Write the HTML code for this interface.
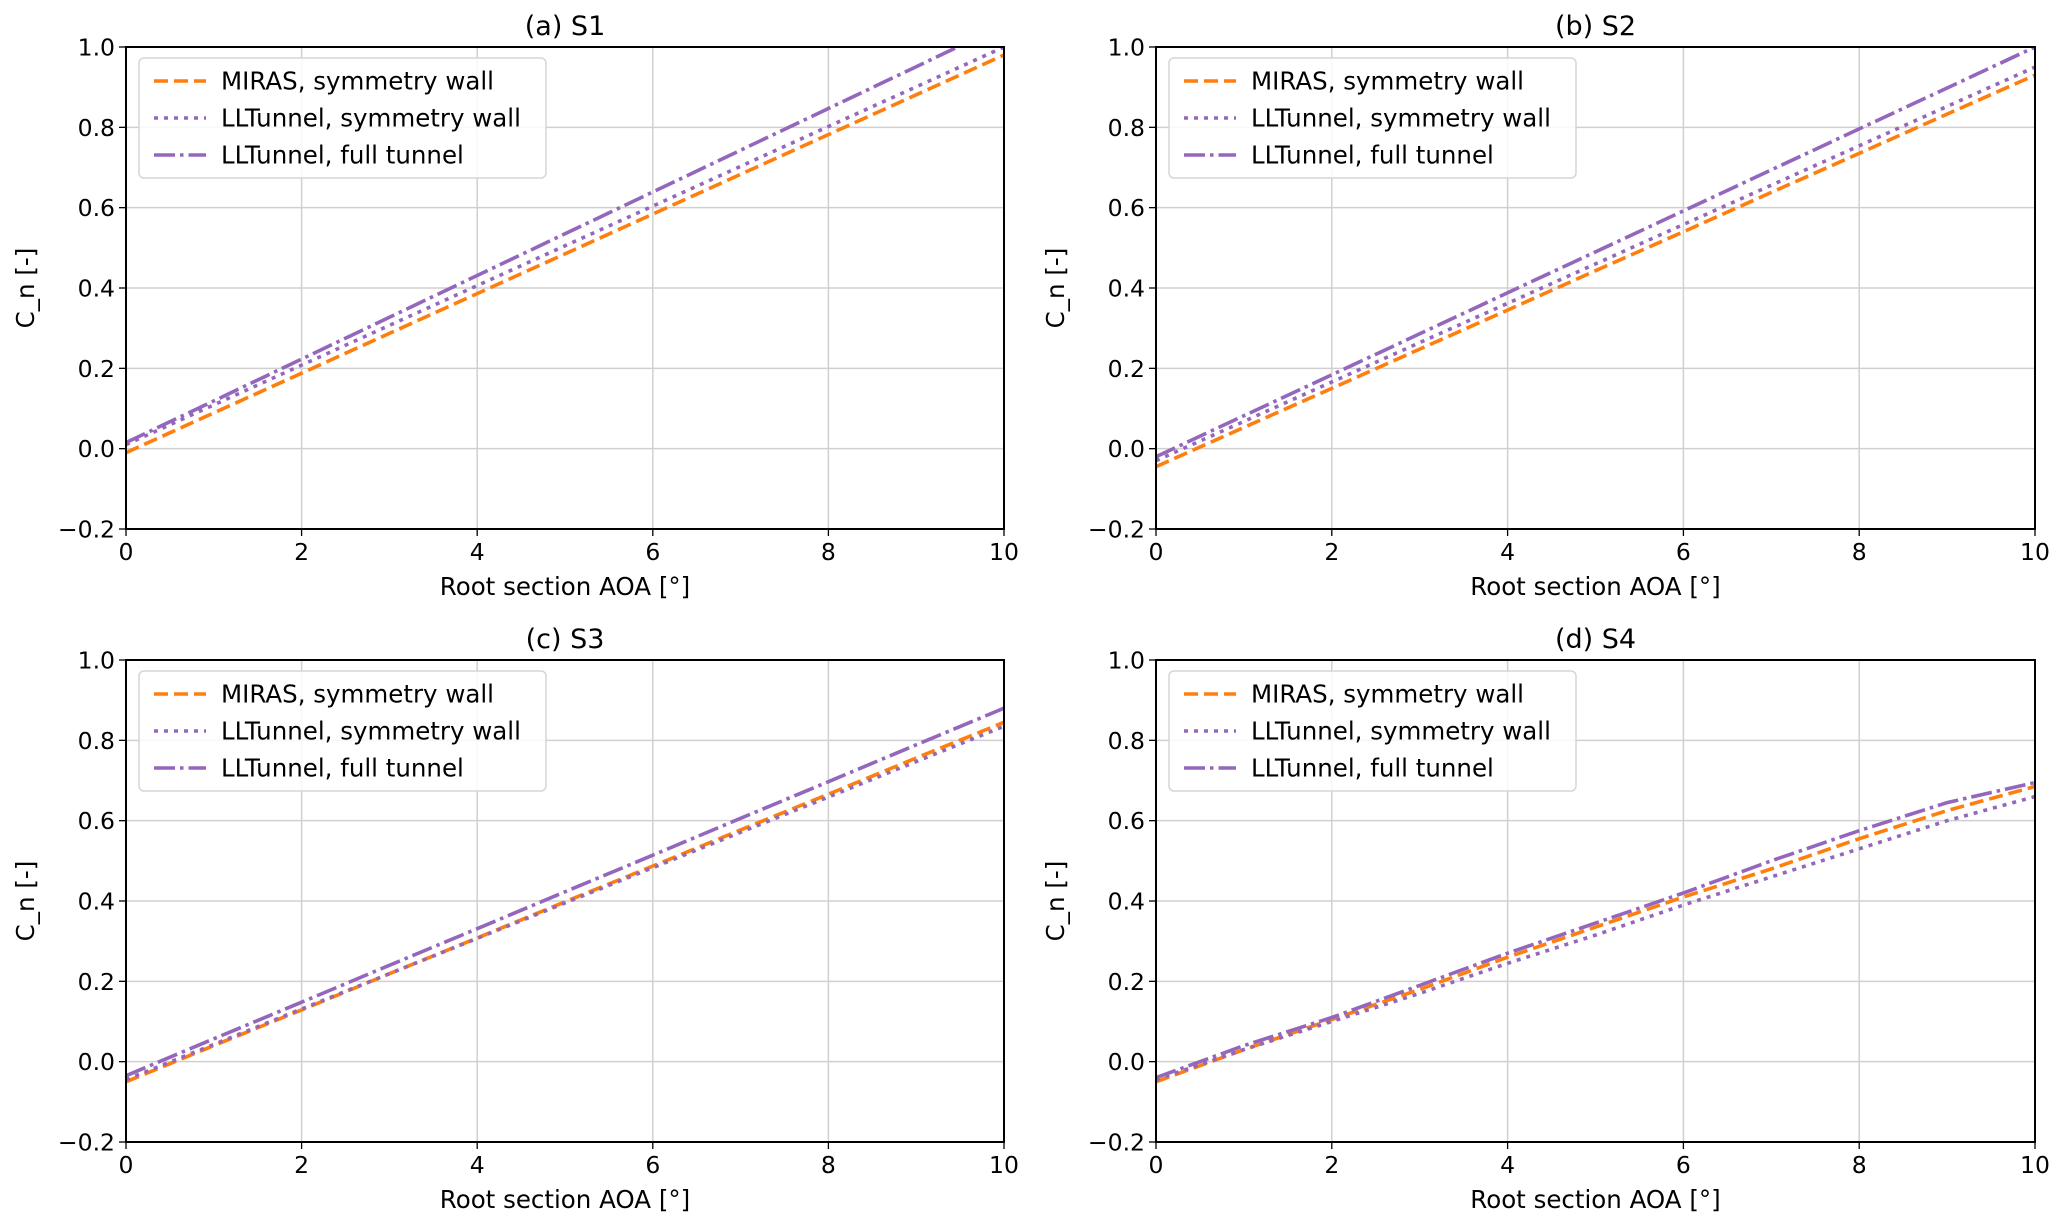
<!DOCTYPE html>
<html><head><meta charset="utf-8"><style>
body{margin:0;background:#fff;}
svg{display:block;font-family:"DejaVu Sans","Liberation Sans",sans-serif;}
</style></head><body>
<svg id="fig" width="2067" height="1224" viewBox="0 0 2067 1224" xmlns="http://www.w3.org/2000/svg"></svg>
<script>
const xValues = [0,1,2,3,4,5,6,7,8,9,10];
const panelTitles = ["(a) S1","(b) S2","(c) S3","(d) S4"];
const xTicks = [0,2,4,6,8,10];
const yTicks = [-0.2,0.0,0.2,0.4,0.6,0.8,1.0];
const yTickLabels = ["\u22120.2","0.0","0.2","0.4","0.6","0.8","1.0"];
const seriesNames = ["MIRAS, symmetry wall","LLTunnel, symmetry wall","LLTunnel, full tunnel"];
const mirasS1 = [-0.01,0.089,0.188,0.287,0.386,0.485,0.584,0.683,0.782,0.881,0.98];
const symS1 = [0.01,0.109,0.208,0.307,0.406,0.505,0.604,0.703,0.802,0.901,1.0];
const fullS1 = [0.015,0.119,0.223,0.327,0.431,0.535,0.639,0.743,0.847,0.951,1.055];
const mirasS2 = [-0.045,0.053,0.15,0.248,0.345,0.443,0.54,0.638,0.735,0.833,0.93];
const symS2 = [-0.03,0.068,0.166,0.264,0.362,0.46,0.558,0.656,0.754,0.852,0.95];
const fullS2 = [-0.02,0.082,0.184,0.286,0.388,0.49,0.592,0.694,0.796,0.898,1.0];
const mirasS3 = [-0.05,0.04,0.129,0.219,0.308,0.398,0.487,0.577,0.666,0.756,0.845];
const symS3 = [-0.045,0.043,0.131,0.219,0.307,0.395,0.483,0.571,0.659,0.747,0.835];
const fullS3 = [-0.035,0.057,0.148,0.24,0.331,0.423,0.514,0.606,0.697,0.789,0.88];
const mirasS4 = [-0.05,0.03,0.105,0.18,0.26,0.335,0.41,0.48,0.555,0.625,0.685];
const symS4 = [-0.045,0.03,0.10,0.17,0.245,0.315,0.39,0.46,0.53,0.6,0.66];
const fullS4 = [-0.04,0.04,0.11,0.19,0.27,0.345,0.42,0.5,0.575,0.645,0.695];
const panelSeries = [[mirasS1,symS1,fullS1],[mirasS2,symS2,fullS2],[mirasS3,symS3,fullS3],[mirasS4,symS4,fullS4]];

const NS="http://www.w3.org/2000/svg";
const svg=document.getElementById('fig');
function mk(tag,attrs,parent){const e=document.createElementNS(NS,tag);for(const k in attrs)e.setAttribute(k,attrs[k]);(parent||svg).appendChild(e);return e;}
const boxes=[{l:126,r:1004,t:47,b:529},{l:1156,r:2035,t:47,b:529},{l:126,r:1004,t:660,b:1142},{l:1156,r:2035,t:660,b:1142}];
const styles=[{c:"#ff7f0e",d:"14,6"},{c:"#9467bd",d:"4,6"},{c:"#9467bd",d:"21,5,3.5,5"}];
const keys=["miras","lltunnel-symmetry","lltunnel-full"];
boxes.forEach((bx,pi)=>{
  const g=mk('g',{});
  
  
  const sx=v=>bx.l+(v-0)/(10-0)*(bx.r-bx.l);
  const sy=v=>bx.b-(v+0.2)/(1.2)*(bx.b-bx.t);
  const clipId='clip'+pi;
  const cp=mk('clipPath',{id:clipId},g);mk('rect',{x:bx.l,y:bx.t,width:bx.r-bx.l,height:bx.b-bx.t},cp);
  xTicks.forEach(v=>{const ln=mk('line',{x1:sx(v),x2:sx(v),y1:bx.t,y2:bx.b,stroke:"#d0d0d0","stroke-width":1.5},g);
    
    mk('line',{x1:sx(v),x2:sx(v),y1:bx.b,y2:bx.b+7,stroke:"#000","stroke-width":1.3},g);
    const t=mk('text',{x:sx(v),y:bx.b+31,"text-anchor":"middle","font-size":23.5,fill:"#000"},g);t.textContent=v;
    });
  yTicks.forEach((v,i)=>{const ln=mk('line',{x1:bx.l,x2:bx.r,y1:sy(v),y2:sy(v),stroke:"#d0d0d0","stroke-width":1.5},g);
    
    mk('line',{x1:bx.l-7,x2:bx.l,y1:sy(v),y2:sy(v),stroke:"#000","stroke-width":1.3},g);
    const t=mk('text',{x:bx.l-11,y:sy(v)+8.5,"text-anchor":"end","font-size":23.5,fill:"#000"},g);t.textContent=yTickLabels[i];
    });
  panelSeries[pi].forEach((arr,si)=>{
    const pts=xValues.map((x,i)=>sx(x).toFixed(1)+","+sy(arr[i]).toFixed(1)).join(" ");
    const pl=mk('polyline',{points:pts,fill:"none",stroke:styles[si].c,"stroke-width":3.6,"stroke-dasharray":styles[si].d,"clip-path":"url(#"+clipId+")"},g);
    });
  const fr=mk('rect',{x:bx.l,y:bx.t,width:bx.r-bx.l,height:bx.b-bx.t,fill:"none",stroke:"#000","stroke-width":2},g);
  
  const tt=mk('text',{x:(bx.l+bx.r)/2,y:bx.t-12,"text-anchor":"middle","font-size":27,fill:"#000"},g);tt.textContent=panelTitles[pi];
  
  const xl=mk('text',{x:(bx.l+bx.r)/2,y:bx.b+66,"text-anchor":"middle","font-size":24.5,fill:"#000"},g);xl.textContent="Root section AOA [°]";
  
  const yx=bx.l-92, yy=(bx.t+bx.b)/2;
  const yl=mk('text',{x:yx,y:yy,"text-anchor":"middle","font-size":24.5,fill:"#000",transform:"rotate(-90 "+yx+" "+yy+")"},g);yl.textContent="C_n [-]";
  
  const lg=mk('g',{},g);
  
  mk('rect',{x:bx.l+13,y:bx.t+11,width:407,height:120,rx:5,fill:"#fff","fill-opacity":0.85,stroke:"#d6d6d6","stroke-width":1.5},lg);
  seriesNames.forEach((n,si)=>{const y=bx.t+34+si*37;
    const e=mk('g',{},lg);
    mk('line',{x1:bx.l+28,x2:bx.l+80,y1:y,y2:y,stroke:styles[si].c,"stroke-width":3.6,"stroke-dasharray":styles[si].d},e);
    const t=mk('text',{x:bx.l+95,y:y+8.5,"font-size":24.5,fill:"#000"},e);t.textContent=n;});
});
</script>
</body></html>
